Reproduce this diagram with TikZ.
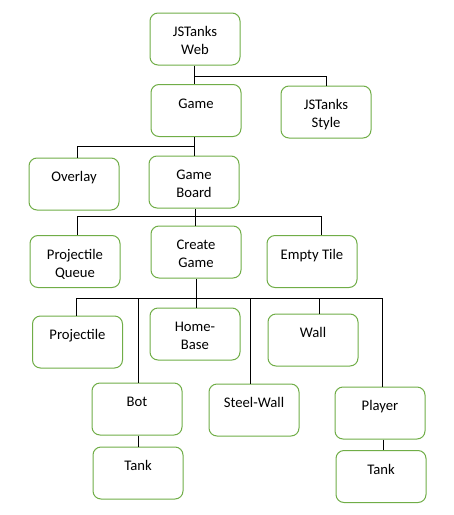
\documentclass[tikz,border=0pt]{standalone}
\usepackage{fontspec}
\setmainfont{Carlito}
\definecolor{boxgreen}{HTML}{70AD47}
\newcommand{\btxt}[1]{\parbox[c][39pt][t]{67.5pt}{\centering\vspace*{8.5pt}\strut #1\par}}
\begin{document}
\begin{tikzpicture}[x=0.75pt,y=-0.75pt,
  box/.style={draw=boxgreen,line width=0.75pt,rounded corners=6pt,inner sep=0pt,fill=white,
    font=\fontsize{11pt}{13.4pt}\selectfont},
  conn/.style={draw=black,line width=0.75pt}]
\useasboundingbox (0,0) rectangle (454,515);
% nodes
\node[box] (web) at (195,39) {\btxt{JSTanks\\Web}};
\node[box] (game) at (196,110.5) {\btxt{Game}};
\node[box] (style) at (326,112) {\btxt{JSTanks\\Style}};
\node[box] (overlay) at (74,184) {\btxt{Overlay}};
\node[box] (board) at (194,182) {\btxt{Game\\Board}};
\node[box] (pq) at (75,261.5) {\btxt{Projectile\\Queue}};
\node[box] (create) at (196,252) {\btxt{Create\\Game}};
\node[box] (empty) at (312,261.5) {\btxt{Empty Tile}};
\node[box] (proj) at (77.5,342) {\btxt{Projectile}};
\node[box] (home) at (195,334) {\btxt{Home-\\Base}};
\node[box] (wall) at (313,340) {\btxt{Wall}};
\node[box] (bot) at (137,409) {\btxt{Bot}};
\node[box] (steel) at (254,410) {\btxt{Steel-Wall}};
\node[box] (player) at (380,413) {\btxt{Player}};
\node[box] (tankA) at (138,473) {\btxt{Tank}};
\node[box] (tankB) at (381,476.5) {\btxt{Tank}};
% junction coordinates
\coordinate (a0) at (194,76);
\coordinate (a1) at (326,76);
\coordinate (b0) at (194,146);
\coordinate (b1) at (77,146);
\coordinate (c0) at (195,216);
\coordinate (c1) at (77,216);
\coordinate (c2) at (321,216);
\coordinate (e0) at (196,298);
\coordinate (e1) at (76,298);
\coordinate (e2) at (138,298);
\coordinate (e3) at (250,298);
\coordinate (e4) at (319,298);
\coordinate (e5) at (382,298);
\coordinate (f0) at (138,435);
\coordinate (g0) at (383,439);
% connectors
\draw[conn] (a0 |- web.south) -- (a0 |- game.north);
\draw[conn] (a0) -- (a1) -- (a1 |- style.north);
\draw[conn] (b0 |- game.south) -- (b0 |- board.north);
\draw[conn] (b0) -- (b1) -- (b1 |- overlay.north);
\draw[conn] (c0 |- board.south) -- (c0 |- create.north);
\draw[conn] (c1 |- pq.north) -- (c1) -- (c2) -- (c2 |- empty.north);
\draw[conn] (e0 |- create.south) -- (e0 |- home.north);
\draw[conn] (e1) -- (e5);
\draw[conn] (e1) -- (e1 |- proj.north);
\draw[conn] (e2) -- (e2 |- bot.north);
\draw[conn] (e3) -- (e3 |- steel.north);
\draw[conn] (e4) -- (e4 |- wall.north);
\draw[conn] (e5) -- (e5 |- player.north);
\draw[conn] (f0 |- bot.south) -- (f0 |- tankA.north);
\draw[conn] (g0 |- player.south) -- (g0 |- tankB.north);
\end{tikzpicture}
\end{document}
